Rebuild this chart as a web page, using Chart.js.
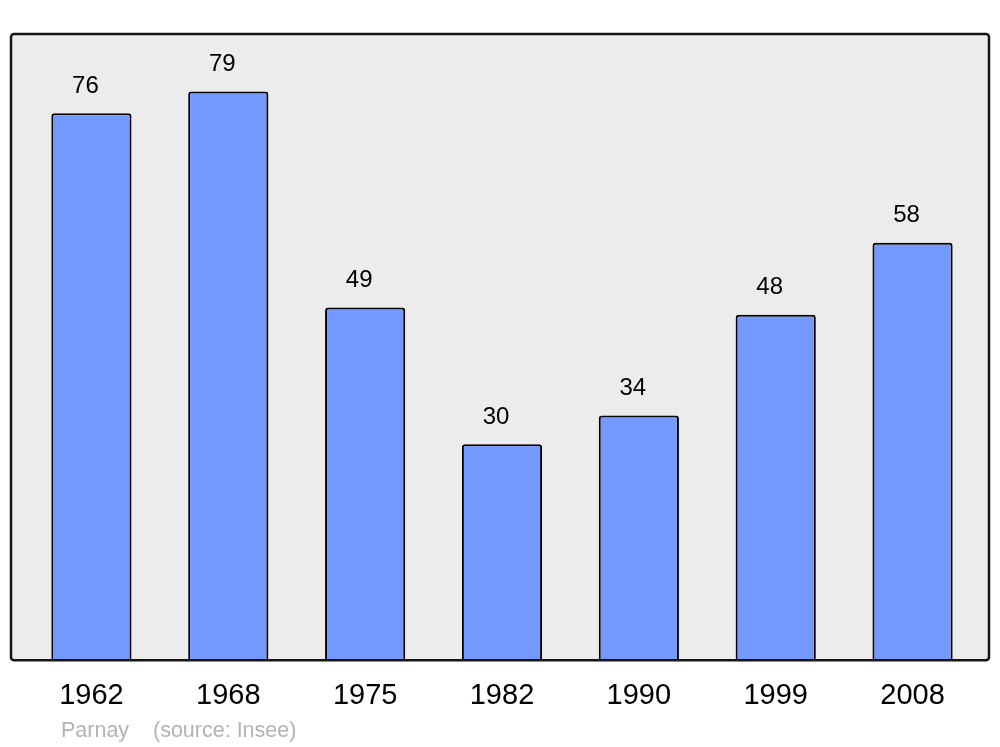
<!DOCTYPE html>
<html>
<head>
<meta charset="utf-8">
<script src="https://cdn.jsdelivr.net/npm/chart.js@4"></script>
<style>
  html, body { margin: 0; padding: 0; background: #fff; }
  #wrap { width: 1000px; height: 747px; position: relative; }
</style>
</head>
<body>
<div id="wrap"><canvas id="popChart" width="1000" height="747"></canvas></div>
<script>
// population data
const years = ['1962', '1968', '1975', '1982', '1990', '1999', '2008'];
const population = [76, 79, 49, 30, 34, 48, 58];
const townName = 'Parnay';
const sourceText = '(source: Insee)';

// grey panel behind the bars, border drawn on top of them
const panelPlugin = {
    id: 'panel',
    beforeDatasetsDraw(chart) {
        const a = chart.chartArea;
        const ctx = chart.ctx;
        ctx.save();
        ctx.beginPath();
        ctx.roundRect(a.left - 12, a.top, a.right - a.left + 20, a.bottom - a.top, 3);
        ctx.fillStyle = '#ececec';
        ctx.fill();
        ctx.restore();
    },
    afterDatasetsDraw(chart) {
        const a = chart.chartArea;
        const ctx = chart.ctx;
        ctx.save();
        ctx.beginPath();
        ctx.roundRect(a.left - 12, a.top, a.right - a.left + 20, a.bottom - a.top, 3);
        ctx.lineWidth = 2.5;
        ctx.strokeStyle = '#151515';
        ctx.stroke();

        // value labels above each bar
        const meta = chart.getDatasetMeta(0);
        ctx.font = '24px "Liberation Sans", Arial, sans-serif';
        ctx.fillStyle = '#000';
        ctx.textAlign = 'center';
        ctx.textBaseline = 'middle';
        meta.data.forEach((bar, i) => {
            ctx.fillText(String(population[i]), bar.x - 6, bar.y - 27);
        });

        // footer
        ctx.font = '21.5px "Liberation Sans", Arial, sans-serif';
        ctx.fillStyle = '#b3b3b3';
        ctx.textAlign = 'left';
        ctx.textBaseline = 'alphabetic';
        ctx.fillText(townName, 61, 737);
        ctx.fillText(sourceText, 153, 737);
        ctx.restore();
    }
};

const ctx = document.getElementById('popChart').getContext('2d');
const popChart = new Chart(ctx, {
    type: 'bar',
    data: {
        labels: years,
        datasets: [{
            data: population,
            backgroundColor: '#7399ff',
            borderColor: '#000',
            borderWidth: 2,
            borderRadius: { topLeft: 3, topRight: 3 },
            borderSkipped: 'bottom',
            barPercentage: 0.586,
            categoryPercentage: 1
        }]
    },
    options: {
        responsive: false,
        animation: false,
        layout: { padding: { left: 23, right: 19, top: 34, bottom: 16 } },
        plugins: {
            legend: { display: false },
            tooltip: { enabled: false }
        },
        scales: {
            x: {
                grid: { display: false, drawTicks: false },
                border: { display: false },
                ticks: {
                    color: '#000',
                    padding: 18,
                    font: { family: '"Liberation Sans", Arial, sans-serif', size: 29 }
                }
            },
            y: {
                display: false,
                min: 0,
                max: 87
            }
        }
    },
    plugins: [panelPlugin]
});
</script>
</body>
</html>
